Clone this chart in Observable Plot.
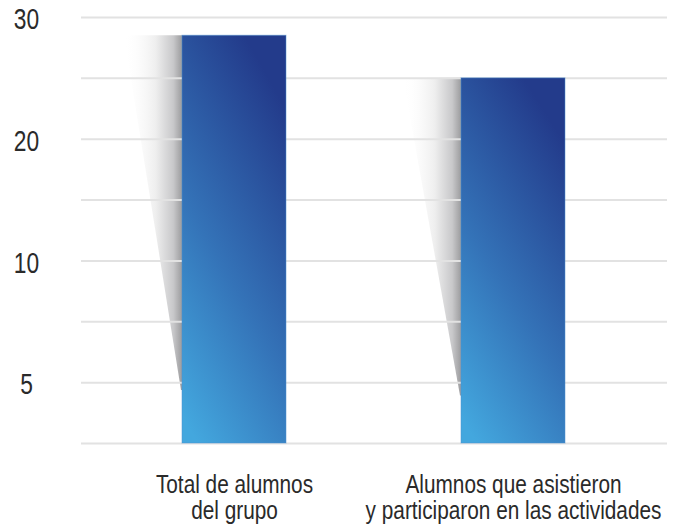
<!DOCTYPE html>
<html>
<head>
<meta charset="utf-8">
<script src="https://cdn.jsdelivr.net/npm/d3@7"></script>
<script src="https://cdn.jsdelivr.net/npm/@observablehq/plot@0.6"></script>
<style>
  html, body { margin: 0; padding: 0; background: #fff; }
  #chart svg { display: block; }
</style>
</head>
<body>
<div id="chart"></div>
<script>
// ---- data ----
const categories = ["Total de alumnos\ndel grupo", "Alumnos que asistieron\ny participaron en las actividades"];
const values = [28.5, 25];
const baseValue = 2.5;
const yTickValues = [5, 10, 20, 30];
const yTickLabels = ["5", "10", "20", "30"];
const gridValues = [2.5, 5, 7.5, 10, 15, 20, 25, 30];

// the printed axis is piecewise: equal gaps for 2.5→5, 5→10 (two gaps), 10→30 (four gaps)
const axisBreaks = [2.5, 5, 10, 30];
const axisSteps = [0, 1, 3, 7];
const toAxis = d3.scaleLinear(axisBreaks, axisSteps);

const data = categories.map((c, i) => ({cat: c, value: values[i]}));

const W = 678, H = 529;
const fontFamily = "'Liberation Sans', Arial, sans-serif";

const defs = () => {
  const d = d3.create("svg:defs");
  const g1 = d.append("linearGradient").attr("id", "barGrad")
    .attr("x1", 0.15).attr("y1", 1).attr("x2", 0.6).attr("y2", 0);
  g1.append("stop").attr("offset", "0%").attr("stop-color", "#43a7de");
  g1.append("stop").attr("offset", "45%").attr("stop-color", "#3473b8");
  g1.append("stop").attr("offset", "100%").attr("stop-color", "#233b8b");
  const g2 = d.append("linearGradient").attr("id", "shadowGrad")
    .attr("x1", 0).attr("y1", 0).attr("x2", 1).attr("y2", 0);
  g2.append("stop").attr("offset", "0%").attr("stop-color", "#ffffff").attr("stop-opacity", 0);
  g2.append("stop").attr("offset", "55%").attr("stop-color", "#eeeeee").attr("stop-opacity", 1);
  g2.append("stop").attr("offset", "85%").attr("stop-color", "#c8c8ca").attr("stop-opacity", 1);
  g2.append("stop").attr("offset", "100%").attr("stop-color", "#9c9c9e").attr("stop-opacity", 1);
  return d.node();
};

const shadow = Plot.barY(data, {
  x: "cat", y1: () => toAxis(baseValue), y2: d => toAxis(d.value),
  render(index, scales, vals) {
    const g = d3.create("svg:g");
    for (const i of index) {
      const left = vals.x[i];
      const top = vals.y2[i];
      const bottom = vals.y1[i];
      const tip = top + (bottom - top) * 0.87;
      g.append("path")
        .attr("d", `M${left},${top}L${left - 58},${top}L${left - 1},${tip}L${left},${tip}Z`)
        .attr("fill", "url(#shadowGrad)");
    }
    return g.node();
  }
});

const chart = Plot.plot({
  width: W,
  height: H,
  marginTop: 17,
  marginBottom: 86,
  marginLeft: 81,
  marginRight: 11,
  style: {fontFamily, background: "#fff", color: "#2a2a2a"},
  x: {domain: categories, paddingInner: 0.627, paddingOuter: 0.3635, label: null},
  y: {domain: [0, 7], label: null},
  marks: [
    defs,
    shadow,
    Plot.ruleY(gridValues, {y: d => toAxis(d), stroke: "#e2e2e2", strokeWidth: 2}),
    Plot.barY(data, {x: "cat", y1: () => toAxis(baseValue), y2: d => toAxis(d.value), fill: "url(#barGrad)", stroke: "#4d8fd0", strokeOpacity: 0.5, strokeWidth: 1}),
    Plot.axisY(yTickValues.map(v => toAxis(v)), {
      tickSize: 0, tickPadding: 55, textAnchor: "middle",
      tickFormat: (d, i) => yTickLabels[i],
      fontSize: 30, dy: 2, label: null
    }),
    Plot.axisX({
      tickSize: 0, tickPadding: 31, fontSize: 26, lineHeight: 1.0,
      label: null
    })
  ]
});

// condensed look: compress axis labels horizontally about their anchors
d3.select(chart).selectAll('g[aria-label="x-axis tick label"] text').each(function() {
  const t = this.getAttribute("transform") || "";
  this.setAttribute("transform", t + " scale(0.8,1)");
});
d3.select(chart).selectAll('g[aria-label="y-axis tick label"] text').each(function() {
  const t = this.getAttribute("transform") || "";
  this.setAttribute("transform", t + " scale(0.76,1)");
});

document.getElementById("chart").appendChild(chart);
</script>
</body>
</html>
